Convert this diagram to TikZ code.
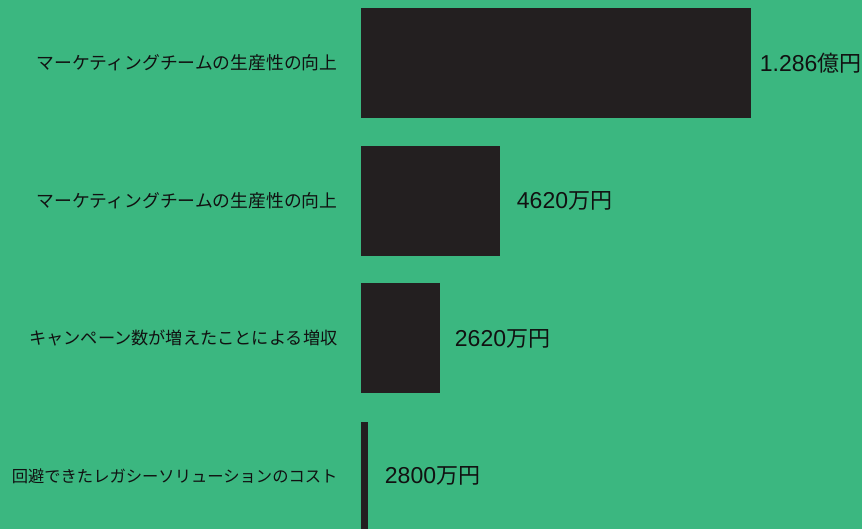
\documentclass[tikz,border=0pt]{standalone}
\usepackage{fontspec}
\setmainfont{Liberation Sans}
\newfontfamily\cjk{Noto Sans CJK JP}
\usetikzlibrary{positioning}
\definecolor{bggreen}{RGB}{59,183,128}
\definecolor{barblack}{RGB}{35,31,32}
\definecolor{textblack}{RGB}{17,17,17}
\tikzset{
    bar/.style={rectangle, fill=barblack, draw=none, inner sep=0pt, minimum height=110pt, anchor=west},
    cat/.style={text=textblack, font=\cjk\fontsize{#1}{20}\selectfont, anchor=east},
    cat/.default=17.8,
    val/.style={text=textblack, font=\fontsize{23}{26}\selectfont, anchor=west}
}
\newcommand{\yen}[1]{{\cjk\fontsize{22}{24}\selectfont #1}}
\begin{document}
\begin{tikzpicture}[x=1pt, y=1pt]
                \fill[bggreen] (0, 0) rectangle (862, 529);
                \useasboundingbox (0, 0) rectangle (862, 529);

                % Bars
                \node[bar, minimum width=390pt] at (361, 466) (b1) {};
                \node[bar, minimum width=139pt] at (361, 328) (b2) {};
                \node[bar, minimum width=79pt] at (361, 190.5) (b3) {};
                \node[bar, minimum width=7pt] at (361, 52) (b4) {};

                % Categories
                \node[cat, left=20pt of b1] (c1) {マーケティングチームの生産性の向上};
                \node[cat, left=20pt of b2] (c2) {マーケティングチームの生産性の向上};
                \node[cat=17.2, left=20pt of b3] (c3) {キャンペーン数が増えたことによる増収};
                \node[cat=16.3, left=20pt of b4, yshift=1pt] (c4) {回避できたレガシーソリューションのコスト};

                % Values
                \node[val, right=5pt of b1] (v1) {1.286\yen{億円}};
                \node[val, right=13pt of b2] (v2) {4620\yen{万円}};
                \node[val, right=11pt of b3] (v3) {2620\yen{万円}};
                \node[val, right=13pt of b4, yshift=1pt] (v4) {2800\yen{万円}};

            \end{tikzpicture}
\end{document}
